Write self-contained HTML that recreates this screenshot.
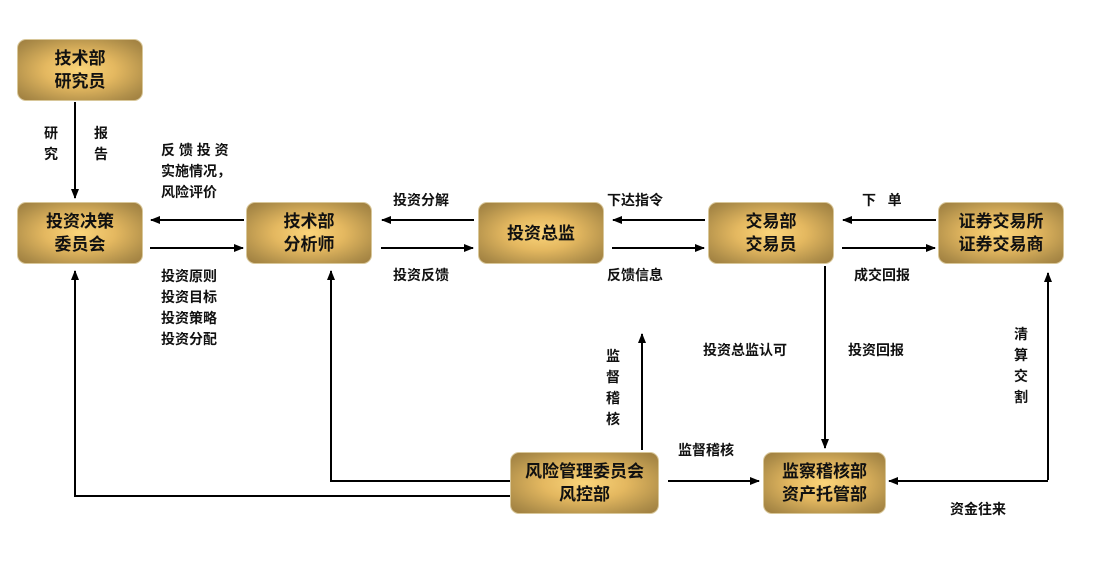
<!DOCTYPE html>
<html><head><meta charset="utf-8"><style>
html,body{margin:0;padding:0;background:#fff;}
body{width:1096px;height:570px;position:relative;overflow:hidden;font-family:"Liberation Sans","Noto Sans CJK SC","WenQuanYi Zen Hei",sans-serif;}
.b{position:absolute;border-radius:9px;background:radial-gradient(ellipse at center,#fbd57a 0%,#e4b860 40%,#b08f4a 80%,#9c7c3e 100%);border:1px solid #d8c79a;box-sizing:border-box;display:flex;align-items:center;justify-content:center;text-align:center;font-size:17px;line-height:23px;font-weight:bold;color:#111;}
.t{position:absolute;font-size:14px;font-weight:bold;color:#111;line-height:21px;white-space:nowrap;}
.v{position:absolute;font-size:14px;font-weight:bold;color:#111;line-height:21px;width:16px;}
svg{position:absolute;left:0;top:0;}
</style></head><body>
<svg width="1096" height="570">
<defs><marker id="a" markerWidth="10" markerHeight="8" refX="9" refY="4" orient="auto" markerUnits="userSpaceOnUse"><path d="M0,0 L10,4 L0,8 Z" fill="#000"/></marker></defs>
<g stroke="#000" stroke-width="2" fill="none">
<line x1="75" y1="102" x2="75" y2="198" marker-end="url(#a)"/>
<line x1="244" y1="220" x2="151" y2="220" marker-end="url(#a)"/>
<line x1="150" y1="248" x2="243" y2="248" marker-end="url(#a)"/>
<line x1="474" y1="220" x2="382" y2="220" marker-end="url(#a)"/>
<line x1="381" y1="248" x2="473" y2="248" marker-end="url(#a)"/>
<line x1="705" y1="220" x2="613" y2="220" marker-end="url(#a)"/>
<line x1="612" y1="248" x2="704" y2="248" marker-end="url(#a)"/>
<line x1="936" y1="220" x2="843" y2="220" marker-end="url(#a)"/>
<line x1="842" y1="248" x2="935" y2="248" marker-end="url(#a)"/>
<polyline points="510,496 75,496 75,271" marker-end="url(#a)"/>
<polyline points="510,481 331,481 331,271" marker-end="url(#a)"/>
<line x1="642" y1="450" x2="642" y2="334" marker-end="url(#a)"/>
<line x1="668" y1="481" x2="759" y2="481" marker-end="url(#a)"/>
<line x1="825" y1="266" x2="825" y2="448" marker-end="url(#a)"/>
<polyline points="1048,480 1048,273" marker-end="url(#a)"/>
<polyline points="1048,481 889,481" marker-end="url(#a)"/>
</g>
</svg>
<div class="b" style="left:17px;top:39px;width:126px;height:62px;">技术部<br>研究员</div>
<div class="b" style="left:17px;top:202px;width:126px;height:62px;">投资决策<br>委员会</div>
<div class="b" style="left:246px;top:202px;width:126px;height:62px;">技术部<br>分析师</div>
<div class="b" style="left:478px;top:202px;width:126px;height:62px;">投资总监</div>
<div class="b" style="left:708px;top:202px;width:126px;height:62px;">交易部<br>交易员</div>
<div class="b" style="left:938px;top:202px;width:126px;height:62px;">证券交易所<br>证券交易商</div>
<div class="b" style="left:510px;top:452px;width:149px;height:62px;">风险管理委员会<br>风控部</div>
<div class="b" style="left:763px;top:452px;width:123px;height:62px;">监察稽核部<br>资产托管部</div>
<div class="v" style="left:44px;top:123px;">研究</div>
<div class="v" style="left:94px;top:123px;">报告</div>
<div class="t" style="left:161px;top:140px;">反 馈 投 资<br>实施情况，<br>风险评价</div>
<div class="t" style="left:161px;top:266px;line-height:21px;">投资原则<br>投资目标<br>投资策略<br>投资分配</div>
<div class="t" style="left:393px;top:190px;">投资分解</div>
<div class="t" style="left:393px;top:265px;">投资反馈</div>
<div class="t" style="left:607px;top:190px;">下达指令</div>
<div class="t" style="left:607px;top:265px;">反馈信息</div>
<div class="t" style="left:862px;top:190px;">下&nbsp;&nbsp;&nbsp;单</div>
<div class="t" style="left:854px;top:265px;">成交回报</div>
<div class="t" style="left:703px;top:340px;">投资总监认可</div>
<div class="t" style="left:848px;top:340px;">投资回报</div>
<div class="v" style="left:606px;top:346px;">监督稽核</div>
<div class="t" style="left:678px;top:440px;">监督稽核</div>
<div class="v" style="left:1014px;top:324px;">清算交割</div>
<div class="t" style="left:950px;top:499px;">资金往来</div>
</body></html>
